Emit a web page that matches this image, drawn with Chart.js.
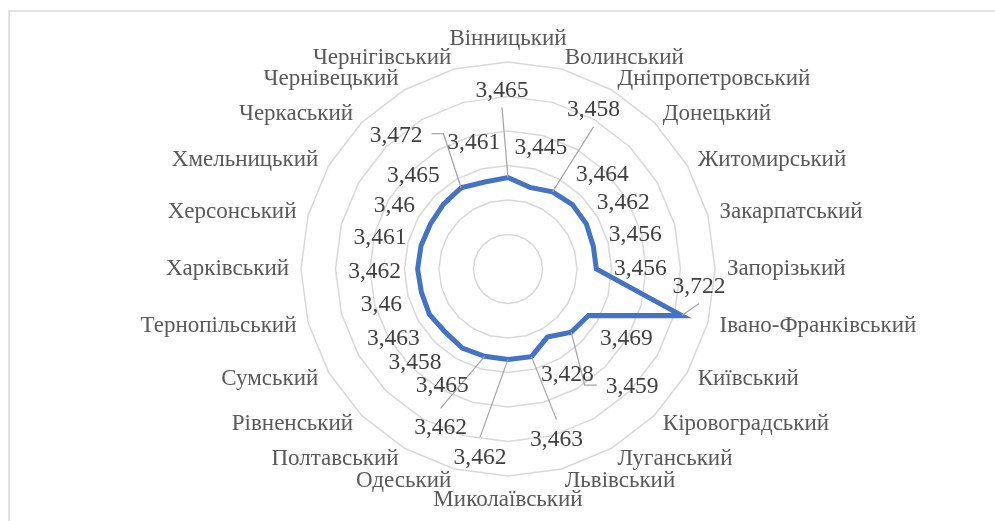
<!DOCTYPE html>
<html><head><meta charset="utf-8">
<script src="https://cdn.jsdelivr.net/npm/chart.js@4"></script>
<style>html,body{margin:0;padding:0;background:#fff;overflow:hidden}canvas{display:block}</style>
</head><body>
<canvas id="c" width="995" height="521"></canvas>
<script>
const categories = ['Вінницький','Волинський','Дніпропетровський','Донецький','Житомирський','Закарпатський','Запорізький','Івано-Франківський','Київський','Кіровоградський','Луганський','Львівський','Миколаївський','Одеський','Полтавський','Рівненський','Сумський','Тернопільський','Харківський','Херсонський','Хмельницький','Черкаський','Чернівецький','Чернігівський'];
const values = [3.465,3.445,3.458,3.464,3.462,3.456,3.456,3.722,3.469,3.459,3.428,3.463,3.462,3.462,3.465,3.458,3.463,3.46,3.462,3.461,3.46,3.465,3.472,3.461];
const axisMin = 3.2, axisMax = 3.8, axisStep = 0.1;

// label placement relative to each data point (dx, dy) and leader type (0 none, 1 straight, 2 elbow)
const labelOffsets = [[-6,-87],[11,-40],[41,-82],[30,-30],[37,-21],[42,-11],[44,0],[17,-29],[38,23],[61,55],[20,38],[25,83],[-28,98],[-44,72],[-20,38],[-30,31],[-36,24],[-40,13],[-43,3],[-41,-8],[-36,-18],[-30,-29],[-65,-52],[-11,-39]];
const leaders = [1,0,1,0,0,0,0,1,0,2,0,1,1,1,0,0,0,0,0,0,0,0,2,0];

const fmt = v => String(v).replace('.', ',');

const excelLabels = {
  id: 'excelLabels',
  beforeDraw(chart) {
    const ctx = chart.ctx;
    ctx.save();
    ctx.fillStyle = '#fff';
    ctx.fillRect(0, 0, chart.width, chart.height);
    ctx.strokeStyle = '#d9d9d9';
    ctx.lineWidth = 1.5;
    ctx.beginPath();
    ctx.moveTo(9, chart.height);
    ctx.lineTo(9, 11);
    ctx.lineTo(chart.width, 11);
    ctx.stroke();
    ctx.restore();
  },
  afterDatasetsDraw(chart) {
    const ctx = chart.ctx, scale = chart.scales.r;
    const meta = chart.getDatasetMeta(0);
    const n = categories.length;
    ctx.save();
    // category labels
    ctx.font = '23px "Liberation Serif"';
    ctx.fillStyle = '#595959';
    const R = scale.drawingArea + 12;
    categories.forEach((name, i) => {
      const p = scale.getPointPosition(i, R);
      const deg = Math.round(i * 360 / n);
      let align = 'left', base = 'middle';
      if (deg === 0) { align = 'center'; base = 'bottom'; }
      else if (deg === 180) { align = 'center'; base = 'top'; }
      else if (deg > 180) { align = 'right'; }
      ctx.textAlign = align;
      ctx.textBaseline = base;
      ctx.fillText(name, p.x, p.y);
    });
    // data labels and leaders
    ctx.font = '23.5px "Liberation Serif"';
    ctx.fillStyle = '#404040';
    ctx.strokeStyle = '#a6a6a6';
    ctx.lineWidth = 1.25;
    meta.data.forEach((pt, i) => {
      const txt = fmt(values[i]);
      const lx = pt.x + labelOffsets[i][0], ly = pt.y + labelOffsets[i][1];
      const w = ctx.measureText(txt).width;
      if (leaders[i] === 1) {
        const sy = ly + (pt.y > ly ? 17 : -20);
        ctx.beginPath(); ctx.moveTo(lx, sy); ctx.lineTo(pt.x, pt.y); ctx.stroke();
      } else if (leaders[i] === 2) {
        const left = pt.x < lx;
        const edge = left ? lx - w / 2 : lx + w / 2;
        const sgn = left ? -1 : 1;
        ctx.beginPath();
        ctx.moveTo(pt.x, pt.y);
        ctx.lineTo(edge + sgn * 21, ly - 2);
        ctx.lineTo(edge + sgn * 9, ly - 2);
        ctx.stroke();
      }
      ctx.textAlign = 'center';
      ctx.textBaseline = 'middle';
      ctx.fillText(txt, lx, ly);
    });
    ctx.restore();
  }
};

new Chart(document.getElementById('c'), {
  type: 'radar',
  data: {
    labels: categories,
    datasets: [{
      data: values,
      borderColor: '#4472c4',
      borderWidth: 5,
      pointRadius: 0,
      pointHoverRadius: 0,
      fill: false,
      tension: 0
    }]
  },
  options: {
    responsive: false,
    animation: false,
    devicePixelRatio: 1,
    layout: { padding: { left: 301, right: 280, top: 62, bottom: 45 } },
    plugins: { legend: { display: false }, tooltip: { enabled: false } },
    scales: {
      r: {
        min: axisMin,
        max: axisMax,
        ticks: { display: false, stepSize: axisStep },
        grid: { color: '#d9d9d9', lineWidth: 1.5, circular: false },
        angleLines: { display: false },
        pointLabels: { display: false }
      }
    }
  },
  plugins: [excelLabels]
});
</script>
</body></html>
